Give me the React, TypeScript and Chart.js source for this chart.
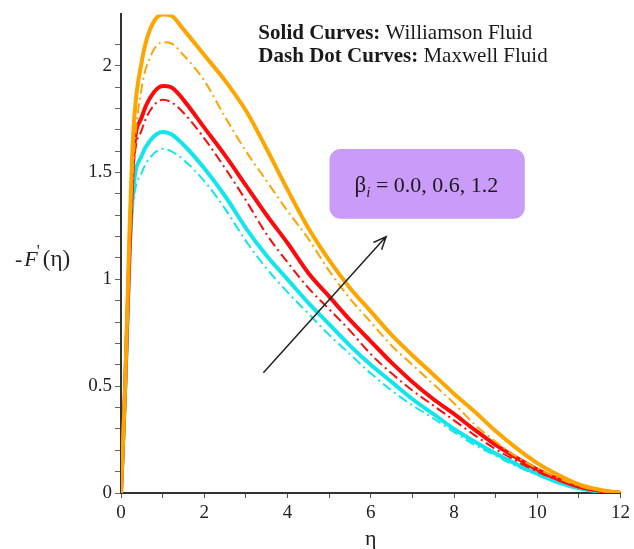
import React, { useEffect, useRef } from 'react';
import { Chart, registerables } from 'chart.js';

Chart.register(...registerables);

// η grid (x values)
const eta = [0, 0.1, 0.2, 0.3, 0.5, 0.7, 1.0, 1.2, 1.5, 2, 2.5, 3, 3.5, 4, 4.5, 5, 5.5, 6, 6.5, 7, 7.5, 8, 8.5, 9, 9.5, 10, 10.5, 11, 11.5, 12];

// Williamson fluid (solid) and Maxwell fluid (dash-dot), βi = 0.0, 0.6, 1.2
const cyanSolid = [0, 0.47, 1.1, 1.43, 1.58, 1.65, 1.69, 1.68, 1.63, 1.52, 1.39, 1.24, 1.11, 1.0, 0.89, 0.79, 0.69, 0.6, 0.52, 0.44, 0.37, 0.3, 0.24, 0.185, 0.135, 0.09, 0.05, 0.022, 0.007, 0];
const cyanDash = [0, 0.45, 1.05, 1.36, 1.5, 1.57, 1.61, 1.6, 1.56, 1.46, 1.33, 1.18, 1.05, 0.94, 0.84, 0.74, 0.65, 0.56, 0.48, 0.41, 0.35, 0.285, 0.225, 0.175, 0.125, 0.085, 0.048, 0.02, 0.006, 0];
const redSolid = [0, 0.5, 1.1, 1.58, 1.76, 1.85, 1.905, 1.9, 1.84, 1.71, 1.58, 1.44, 1.3, 1.17, 1.03, 0.92, 0.81, 0.71, 0.61, 0.52, 0.44, 0.37, 0.295, 0.225, 0.165, 0.11, 0.065, 0.03, 0.01, 0];
const redDash = [0, 0.48, 1.05, 1.52, 1.7, 1.79, 1.84, 1.83, 1.78, 1.66, 1.52, 1.37, 1.21, 1.08, 0.96, 0.86, 0.76, 0.65, 0.56, 0.48, 0.41, 0.34, 0.27, 0.205, 0.15, 0.1, 0.06, 0.027, 0.009, 0];
const orangeSolid = [0, 0.5, 1.2, 1.7, 2.02, 2.17, 2.24, 2.235, 2.17, 2.05, 1.93, 1.79, 1.61, 1.42, 1.24, 1.09, 0.96, 0.85, 0.74, 0.645, 0.555, 0.465, 0.38, 0.29, 0.21, 0.14, 0.085, 0.04, 0.015, 0];
const orangeDash = [0, 0.48, 1.1, 1.55, 1.9, 2.04, 2.11, 2.105, 2.05, 1.93, 1.76, 1.6, 1.46, 1.32, 1.19, 1.04, 0.91, 0.8, 0.69, 0.6, 0.51, 0.42, 0.32, 0.24, 0.17, 0.115, 0.07, 0.033, 0.011, 0];

const legendLines = [
  { bold: 'Solid Curves: ', normal: 'Williamson Fluid' },
  { bold: 'Dash Dot Curves: ', normal: 'Maxwell Fluid' },
];
const boxText = ' = 0.0, 0.6, 1.2';

const CYAN = '#12E6EC';
const RED = '#FF0A0A';
const ORANGE = '#FFA500';
const SERIF = '"Liberation Serif", "Times New Roman", serif';

const toPts = (ys: number[]) => ys.map((y, i) => ({ x: eta[i], y }));

const overlay = {
  id: 'overlay',
  afterDatasetsDraw(chart: any) {
    const { ctx } = chart;
    const xs = chart.scales.x;
    const ys = chart.scales.y;
    const px = (v: number) => xs.getPixelForValue(v);
    const py = (v: number) => ys.getPixelForValue(v);
    ctx.save();

    // legend text
    ctx.fillStyle = '#1a1a1a';
    ctx.textBaseline = 'alphabetic';
    ctx.textAlign = 'left';
    const lx = px(3.3);
    const lys = [py(2.124), py(2.017)];
    legendLines.forEach((l, i) => {
      ctx.font = `bold 21px ${SERIF}`;
      ctx.fillText(l.bold, lx, lys[i]);
      const w = ctx.measureText(l.bold).width;
      ctx.font = `21px ${SERIF}`;
      ctx.fillText(l.normal, lx + w, lys[i]);
    });

    // purple box
    const bx0 = px(5.01), bx1 = px(9.7), by0 = py(1.61), by1 = py(1.284);
    ctx.fillStyle = '#CB9BF9';
    ctx.beginPath();
    (ctx as any).roundRect(bx0, by0, bx1 - bx0, by1 - by0, 11);
    ctx.fill();

    // box text
    ctx.fillStyle = '#1a1a1a';
    let tx = px(5.61);
    const tb = py(1.41);
    ctx.font = `23px ${SERIF}`;
    ctx.fillText('β', tx, tb);
    tx += ctx.measureText('β').width;
    ctx.font = `italic 15px ${SERIF}`;
    ctx.fillText('i', tx, tb + 5);
    tx += ctx.measureText('i').width;
    ctx.font = `22px ${SERIF}`;
    ctx.fillText(boxText, tx, tb);

    // arrow
    const ax0 = px(3.42), ay0 = py(0.563), ax1 = px(6.37), ay1 = py(1.2);
    ctx.strokeStyle = '#222';
    ctx.lineWidth = 1.5;
    ctx.beginPath();
    ctx.moveTo(ax0, ay0);
    ctx.lineTo(ax1, ay1);
    const ang = Math.atan2(ay1 - ay0, ax1 - ax0);
    const hl = 14;
    ctx.moveTo(ax1 - hl * Math.cos(ang - 0.4), ay1 - hl * Math.sin(ang - 0.4));
    ctx.lineTo(ax1, ay1);
    ctx.lineTo(ax1 - hl * Math.cos(ang + 0.4), ay1 - hl * Math.sin(ang + 0.4));
    ctx.stroke();

    // y-axis label -F'(η)
    let yx = 15;
    const yb = 266;
    ctx.fillStyle = '#222';
    ctx.font = `22px ${SERIF}`;
    ctx.fillText('-', yx, yb);
    yx += ctx.measureText('-').width + 2;
    ctx.font = `italic 22px ${SERIF}`;
    ctx.fillText('F', yx, yb);
    yx += ctx.measureText('F').width;
    ctx.font = `16px ${SERIF}`;
    ctx.fillText("'", yx - 1, yb - 10);
    yx += 5;
    ctx.font = `23px ${SERIF}`;
    ctx.fillText('(η)', yx, yb);

    // x-axis label η
    ctx.textAlign = 'center';
    ctx.font = `22px ${SERIF}`;
    ctx.fillText('η', px(6), 545);

    ctx.restore();
  },
};

export default function App() {
  const ref = useRef<HTMLCanvasElement>(null);
  useEffect(() => {
    if (!ref.current) return;
    const mk = (label: string, data: number[], color: string, solid: boolean) => ({
      label,
      data: toPts(data),
      borderColor: color,
      backgroundColor: color,
      borderWidth: solid ? 4 : 2,
      borderDash: solid ? [] : [10, 4, 2, 4],
      pointRadius: 0,
      fill: false,
      cubicInterpolationMode: 'monotone' as const,
    });
    const chart = new Chart(ref.current, {
      type: 'line',
      data: {
        datasets: [
          mk('Williamson βi=1.2', orangeSolid, ORANGE, true),
          mk('Maxwell βi=1.2', orangeDash, ORANGE, false),
          mk('Williamson βi=0.6', redSolid, RED, true),
          mk('Maxwell βi=0.6', redDash, RED, false),
          mk('Williamson βi=0.0', cyanSolid, CYAN, true),
          mk('Maxwell βi=0.0', cyanDash, CYAN, false),
        ],
      },
      options: {
        responsive: false,
        animation: false,
        layout: { padding: { left: 0, right: 8, top: 12, bottom: 0 } },
        plugins: { legend: { display: false }, tooltip: { enabled: false } },
        scales: {
          x: {
            type: 'linear',
            min: 0,
            max: 12,
            afterFit: (s: any) => { s.height = 56; },
            border: { color: '#333', width: 2 },
            grid: { drawOnChartArea: false, drawTicks: true, tickLength: 5, color: '#555' },
            ticks: {
              stepSize: 1,
              autoSkip: false,
              maxRotation: 0,
              padding: 4,
              color: '#222',
              font: { family: SERIF, size: 19 },
              callback: (v: any) => (Number(v) % 2 === 0 ? String(v) : ''),
            },
          },
          y: {
            type: 'linear',
            min: 0,
            max: 2.24,
            afterFit: (s: any) => { s.width = 121; },
            border: { color: '#333', width: 2 },
            grid: {
              drawOnChartArea: false,
              drawTicks: true,
              tickLength: 6,
              color: (c: any) => {
                const v = c.tick ? c.tick.value : 0;
                return Math.abs(v * 10 - Math.round(v * 10)) < 1e-6 ? '#666' : 'rgba(0,0,0,0)';
              },
            },
            ticks: {
              stepSize: 0.1,
              autoSkip: false,
              padding: 3,
              color: '#222',
              font: { family: SERIF, size: 19 },
              callback: (v: any) => {
                const n = Number(v);
                return Math.abs(n * 2 - Math.round(n * 2)) < 1e-6 ? String(Math.round(n * 2) / 2) : '';
              },
            },
          },
        },
      },
      plugins: [overlay],
    });
    return () => chart.destroy();
  }, []);
  return (
    <div style={{ position: 'absolute', left: 0, top: 0, width: 634, height: 549, background: '#fff' }}>
      <canvas ref={ref} width={634} height={549} style={{ width: 634, height: 549 }} />
    </div>
  );
}
